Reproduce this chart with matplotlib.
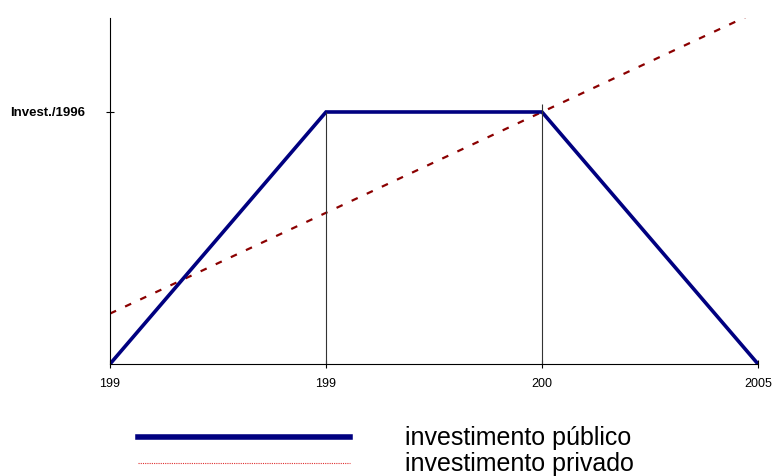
import matplotlib.pyplot as plt
from matplotlib.lines import Line2D

plt.rcParams['font.family'] = ['Liberation Sans', 'DejaVu Sans']

# periods along the horizontal axis (labels as printed)
periods = [0, 1, 2, 3]
period_labels = ["199", "199", "200", "2005"]

# investment levels, relative to the 1996 level
publico = [0.0, 1.0, 1.0, 0.0]
privado_x = [0, 3]
privado = [0.2, 1.4]

fig = plt.figure(figsize=(7.73, 4.76), dpi=100)
ax = fig.add_axes([0.1423, 0.2353, 0.8383, 0.7269])

ax.plot(privado_x, privado, color="#8b0000", lw=1.6, dashes=(3, 4.5))
ax.plot(periods, publico, color="#000080", lw=2.6, solid_joinstyle="miter")

# drop lines at the plateau ends
ax.vlines(1, 0, 1.0, color="#333333", lw=0.8)
ax.vlines(2, 0, 1.03, color="#333333", lw=0.8)

ax.set_xlim(0, 3)
ax.set_ylim(0, 1.373)
ax.set_xticks(periods)
ax.set_xticklabels(period_labels, fontsize=9)
ax.set_yticks([1.0])
ax.set_yticklabels(["Invest./1996"], fontsize=9.5, fontweight="bold")
ax.tick_params(axis="both", direction="inout", length=6, width=0.8, pad=7)
ax.tick_params(axis="y", pad=15)
for side in ("top", "right"):
    ax.spines[side].set_visible(False)
ax.spines["left"].set_linewidth(0.8)
ax.spines["bottom"].set_linewidth(0.8)

handles = [
    Line2D([], [], color="#000080", lw=4),
    Line2D([], [], color="#e03030", lw=0.8, ls=(0, (1, 1))),
]
fig.legend(handles, ["investimento público", "investimento privado"],
           loc="upper left", bbox_to_anchor=(0.1785, 0.104), frameon=False,
           fontsize=18, handlelength=8.5, handletextpad=2.2,
           labelspacing=0.08, borderpad=0, borderaxespad=0)

fig.savefig("out.png", dpi=100)
